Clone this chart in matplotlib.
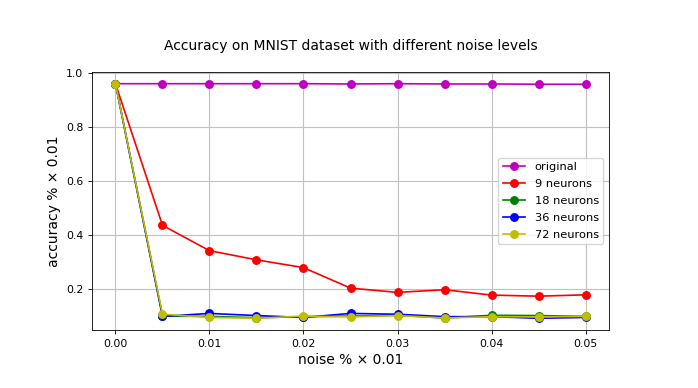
import matplotlib
matplotlib.use("Agg")
import matplotlib.pyplot as plt

# noise levels (x) and accuracies
noise = [0.0, 0.005, 0.01, 0.015, 0.02, 0.025, 0.03, 0.035, 0.04, 0.045, 0.05]

acc_original = [0.961, 0.961, 0.961, 0.961, 0.961, 0.960, 0.961, 0.960, 0.960, 0.959, 0.959]
acc_9 = [0.961, 0.435, 0.341, 0.307, 0.278, 0.202, 0.186, 0.196, 0.176, 0.172, 0.177]
acc_18 = [0.961, 0.098, 0.097, 0.092, 0.096, 0.098, 0.101, 0.091, 0.101, 0.100, 0.097]
acc_36 = [0.961, 0.097, 0.108, 0.100, 0.093, 0.108, 0.105, 0.096, 0.096, 0.090, 0.093]
acc_72 = [0.961, 0.105, 0.093, 0.090, 0.098, 0.095, 0.100, 0.091, 0.096, 0.095, 0.097]

series = [
    ("original", acc_original, "m"),
    ("9 neurons", acc_9, "r"),
    ("18 neurons", acc_18, "g"),
    ("36 neurons", acc_36, "b"),
    ("72 neurons", acc_72, "y"),
]

fig = plt.figure(figsize=(6.98, 3.88), dpi=100)
ax = fig.add_axes([0.1318, 0.1495, 0.7407, 0.665])

for name, vals, col in series:
    ax.plot(noise, vals, marker="o", color=col, label=name, markersize=5.4, linewidth=1.2)

ax.grid(True, color="#c0c0c0", linewidth=0.8)
ax.set_axisbelow(True)
ax.set_xticks([0.0, 0.01, 0.02, 0.03, 0.04, 0.05])
ax.set_xticklabels(["0.00", "0.01", "0.02", "0.03", "0.04", "0.05"])
ax.tick_params(labelsize=7.8, width=0.6, length=2.7)
for sp in ax.spines.values():
    sp.set_linewidth(0.6)

ax.set_xlabel("noise % × 0.01", fontsize=10, labelpad=3)
ax.set_ylabel("accuracy % × 0.01", fontsize=10, labelpad=4)
ax.set_title("Accuracy on MNIST dataset with different noise levels", fontsize=10, pad=16)
ax.legend(loc="center right", fontsize=8.2, labelspacing=0.6)

fig.savefig("out.png", dpi=100)
